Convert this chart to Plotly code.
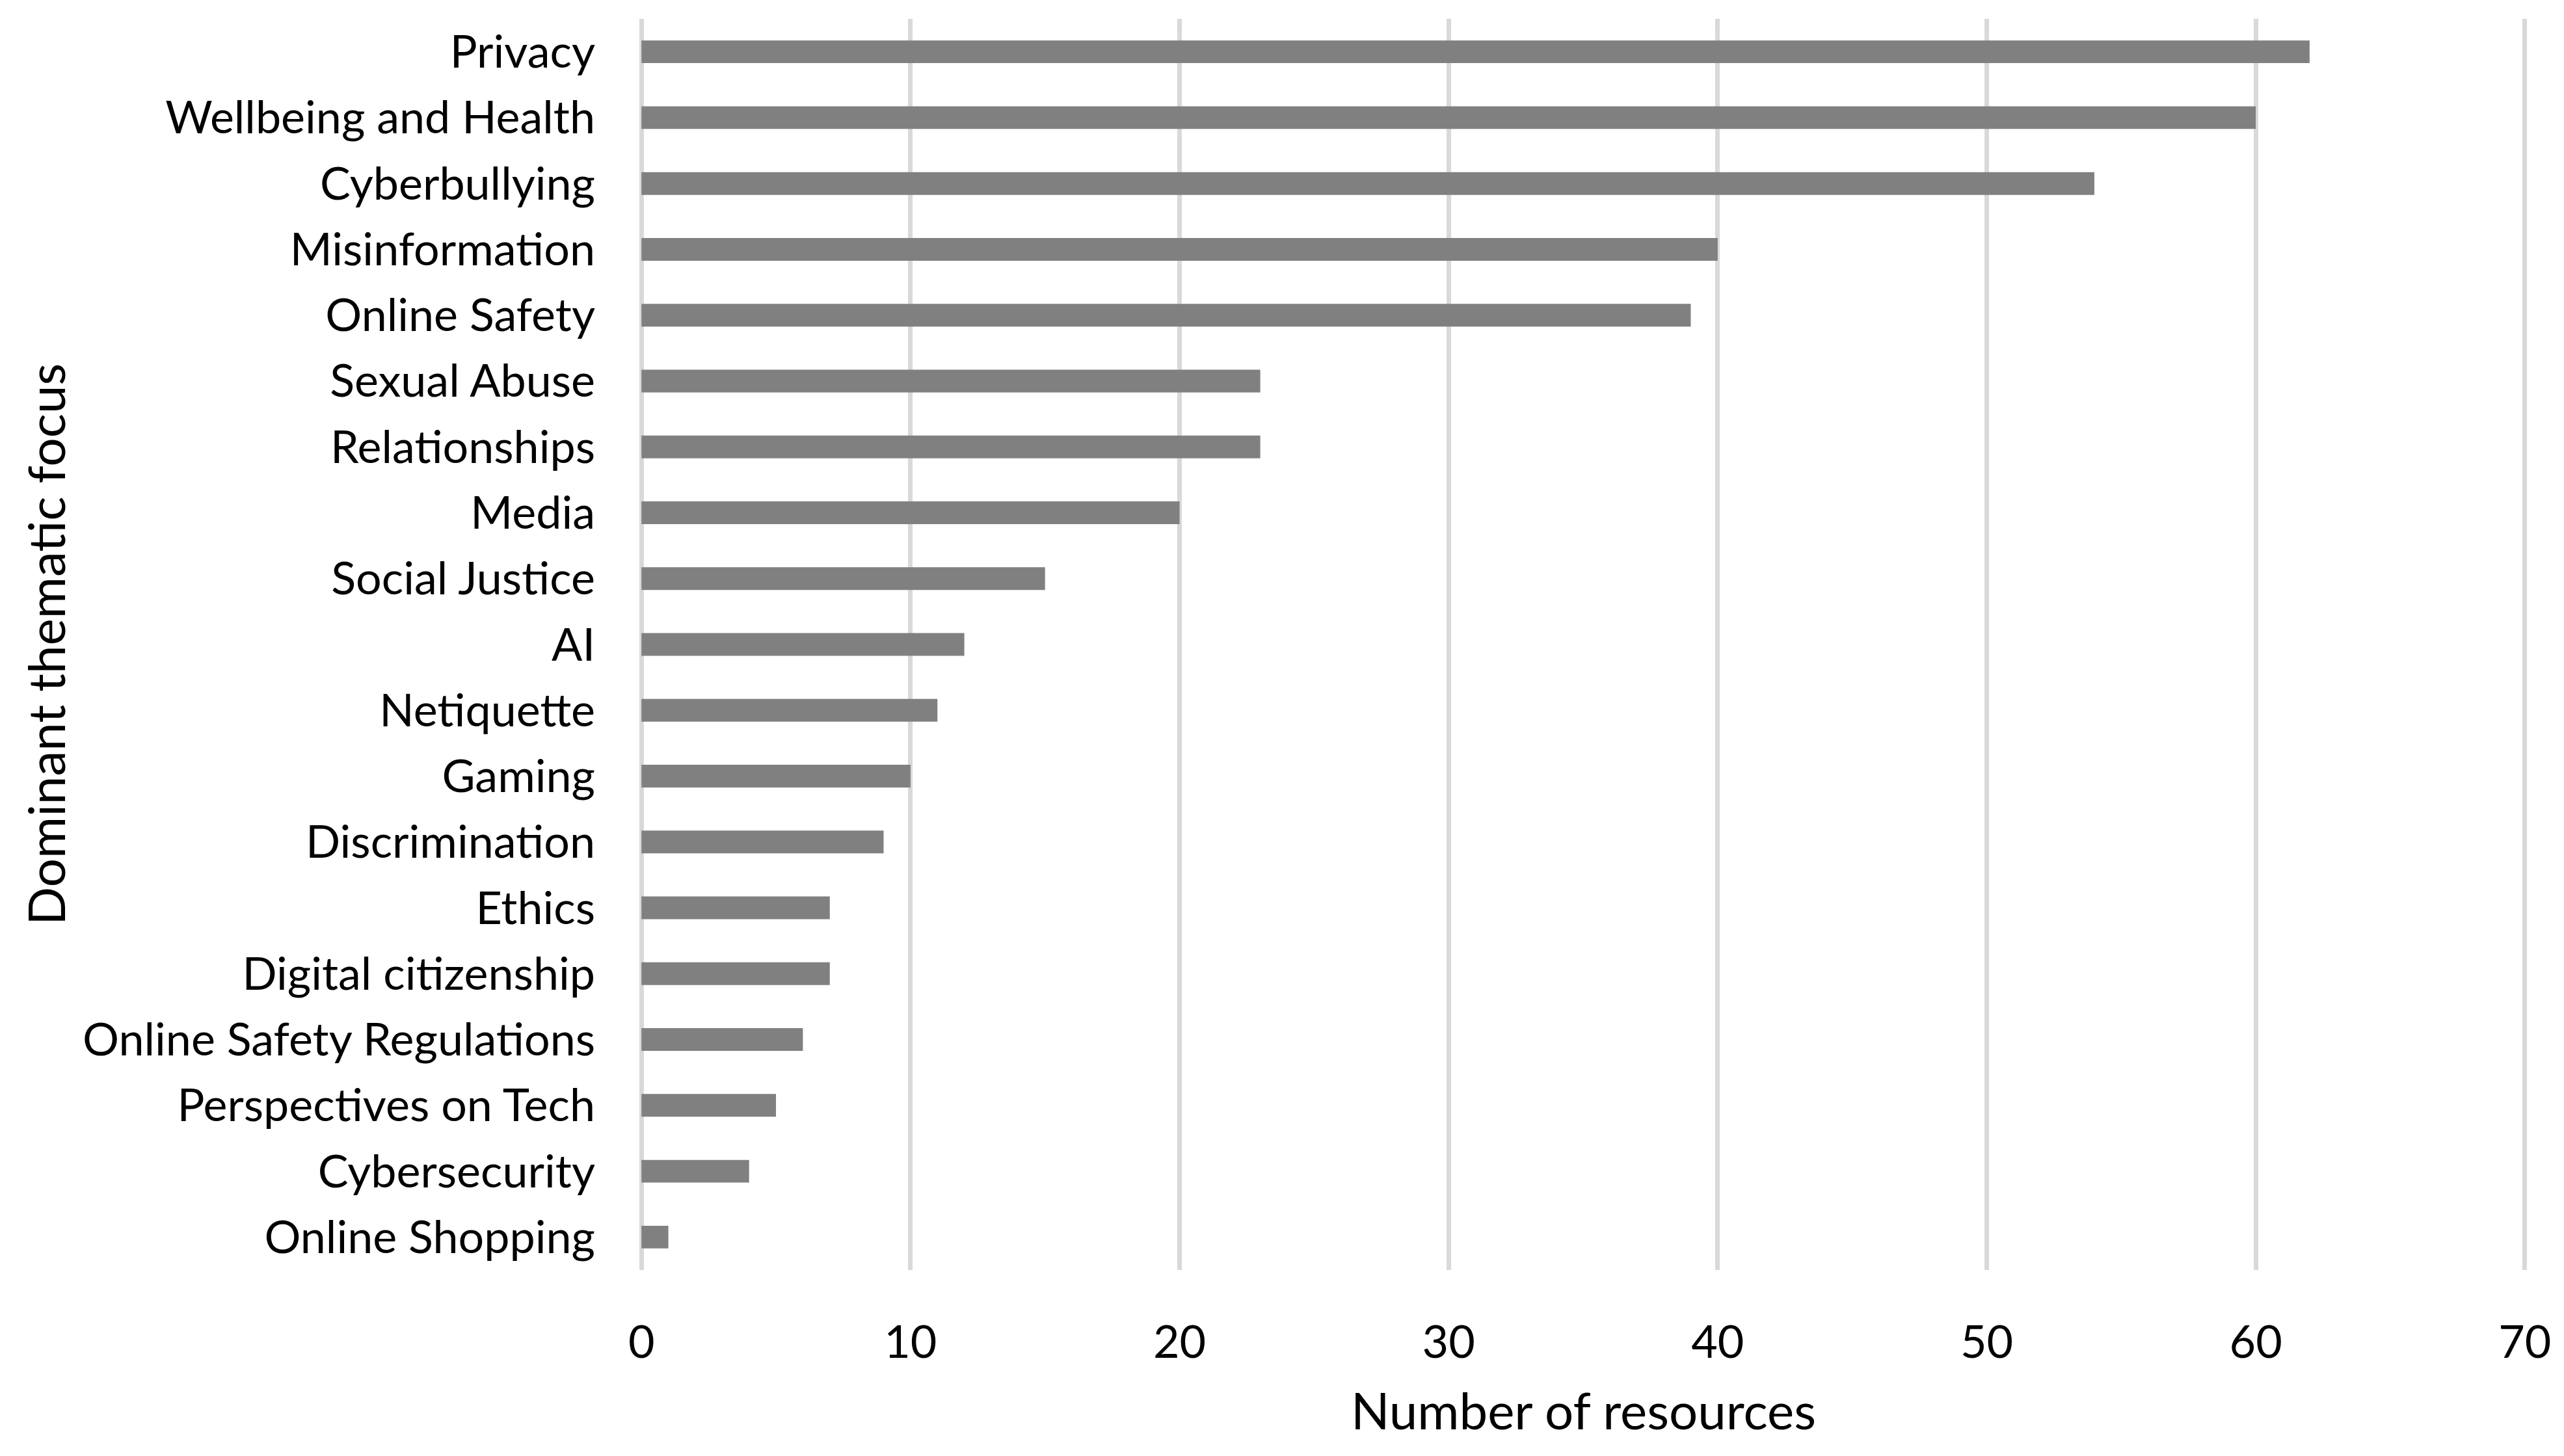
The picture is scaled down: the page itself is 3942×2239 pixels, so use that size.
import plotly.graph_objects as go

# Data (top to bottom as shown)
themes = [
    "Privacy", "Wellbeing and Health", "Cyberbullying", "Misinformation",
    "Online Safety", "Sexual Abuse", "Relationships", "Media", "Social Justice",
    "AI", "Netiquette", "Gaming", "Discrimination", "Ethics",
    "Digital citizenship", "Online Safety Regulations", "Perspectives on Tech",
    "Cybersecurity", "Online Shopping",
]
resources = [62, 60, 54, 40, 39, 23, 23, 20, 15, 12, 11, 10, 9, 7, 7, 6, 5, 4, 1]
x_ticks = [0, 10, 20, 30, 40, 50, 60, 70]

# page body has an 8px margin, so the figure is a bit smaller than the window
W, H = 3926, 2223
FONT = "Lato"

fig = go.Figure()

fig.add_trace(go.Bar(
    x=resources,
    y=themes,
    orientation="h",
    marker=dict(color="#808080", line=dict(width=0)),
    hoverinfo="x+y",
))

fig.update_layout(
    width=W,
    height=H,
    margin=dict(l=972, r=44, t=21, b=278),
    paper_bgcolor="white",
    plot_bgcolor="white",
    bargap=0.655,
    showlegend=False,
    font=dict(family=FONT, color="black", size=70),
)

# range padded a little so the gridlines at 0 and 70 get drawn
fig.update_xaxes(
    range=[-0.15, 70.15],
    tickvals=x_ticks,
    showgrid=True,
    gridcolor="#d9d9d9",
    gridwidth=7,
    zeroline=False,
    showline=False,
    ticks="outside",
    ticklen=50,
    tickcolor="white",
    tickfont=dict(family=FONT, size=70, color="black"),
)

fig.update_yaxes(
    autorange="reversed",
    showgrid=False,
    zeroline=False,
    showline=False,
    ticks="outside",
    ticklen=50,
    tickcolor="white",
    tickfont=dict(family=FONT, size=70, color="black"),
)

# Axis titles
fig.add_annotation(
    text="Number of resources",
    xref="paper", yref="paper", x=0.5, y=0,
    xanchor="center", yanchor="middle", yshift=-215,
    showarrow=False,
    font=dict(family=FONT, size=78, color="black"),
)
fig.add_annotation(
    text="Dominant thematic focus",
    xref="paper", yref="paper", x=0, y=0.5,
    xanchor="center", yanchor="middle", xshift=-910,
    textangle=-90,
    showarrow=False,
    font=dict(family=FONT, size=78, color="black"),
)

fig.write_html("out.html")
